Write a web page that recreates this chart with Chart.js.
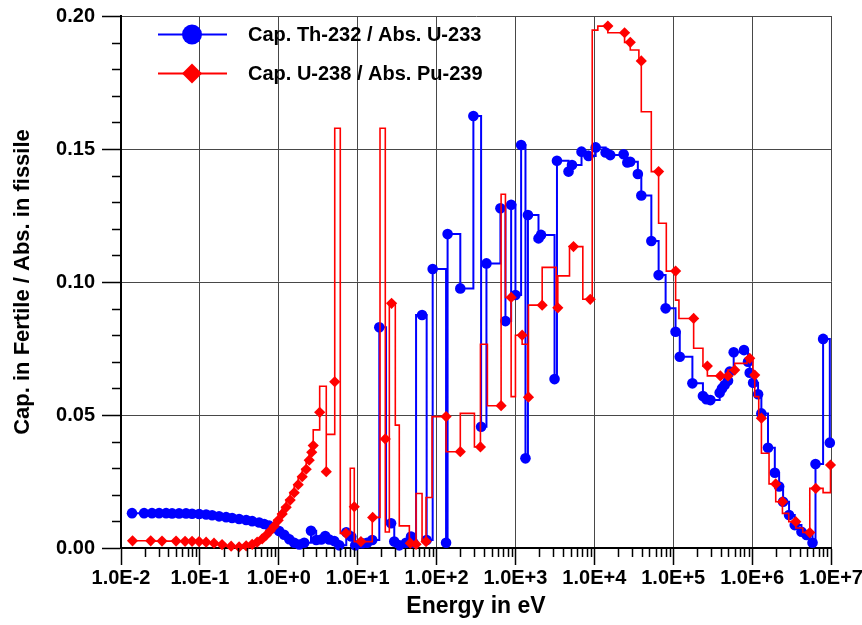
<!DOCTYPE html>
<html>
<head>
<meta charset="utf-8">
<script src="https://cdn.jsdelivr.net/npm/chart.js@4.4.1/dist/chart.umd.min.js"></script>
<style>
  html, body { margin: 0; padding: 0; background: #fff; }
  canvas { display: block; }
</style>
</head>
<body>
<canvas id="c" width="862" height="625"></canvas>
<script>
// Group energies (eV) and capture/absorption ratios, Th-232 capture over U-233 absorption
const thEnergy = [
  1.38e-2, 1.96e-2, 2.47e-2, 3.04e-2, 3.73e-2, 4.44e-2, 5.45e-2, 6.68e-2, 7.96e-2, 9.77e-2,
  0.120, 0.143, 0.175, 0.215, 0.256, 0.314, 0.386, 0.460, 0.564, 0.653,
  0.755, 0.874, 1.01, 1.17, 1.36, 1.57, 1.82, 2.10,
  2.56, 2.98, 3.45, 3.88, 4.36, 5.05, 5.84, 7.17, 8.29, 9.32,
  11.4, 13.2, 15.3, 18.8, 22.9, 26.5, 29.1, 33.7, 41.0, 47.5,
  50.8, 55.0, 65.5, 74.9, 89.3, 132, 138, 200, 293, 367,
  429, 645, 747, 882, 1000, 1180, 1340, 1440, 1960, 2110,
  3130, 3360, 4710, 5210, 6880, 8440, 1.04e4, 1.39e4, 1.59e4, 2.35e4,
  2.62e4, 2.85e4, 3.56e4, 3.94e4, 5.28e4, 6.53e4, 8.01e4, 1.07e5, 1.21e5, 1.75e5,
  2.38e5, 2.63e5, 2.96e5, 3.88e5, 4.15e5, 4.49e5, 4.95e5, 5.20e5, 5.84e5, 7.89e5,
  8.87e5, 9.32e5, 1.03e6, 1.19e6, 1.31e6, 1.59e6, 1.94e6, 2.20e6, 2.47e6, 2.94e6,
  3.47e6, 4.22e6, 4.89e6, 5.83e6, 6.36e6, 7.94e6, 9.66e6
];
const thRatio = [
  0.0131, 0.0131, 0.0131, 0.0131, 0.0131, 0.0130, 0.0130, 0.0130, 0.0129, 0.0128,
  0.0126, 0.0123, 0.0119, 0.0116, 0.0113, 0.0109, 0.0105, 0.0101, 0.0096, 0.0090,
  0.0084, 0.0075, 0.0064, 0.0050, 0.0033, 0.0020, 0.0013, 0.0020,
  0.0065, 0.0030, 0.0032, 0.0045, 0.0032, 0.0026, 0.0010, 0.0059, 0.0043, 0.0010,
  0.0018, 0.0020, 0.0030, 0.0830, 0.0093, 0.0093, 0.0024, 0.0010, 0.0020, 0.0043,
  0.0020, 0.0876, 0.0876, 0.0030, 0.1049, 0.0020, 0.1180, 0.0976, 0.1624, 0.0456,
  0.1070, 0.1277, 0.0853, 0.1290, 0.0951, 0.1515, 0.0337, 0.1252, 0.1164, 0.1177,
  0.0635, 0.1456, 0.1415, 0.1440, 0.1490, 0.1474, 0.1506, 0.1487, 0.1477, 0.1480,
  0.1449, 0.1452, 0.1406, 0.1325, 0.1154, 0.1026, 0.0901, 0.0813, 0.0719, 0.0619,
  0.0571, 0.0559, 0.0556, 0.0584, 0.0600, 0.0613, 0.0629, 0.0663, 0.0736, 0.0744,
  0.0700, 0.0659, 0.0621, 0.0578, 0.0506, 0.0377, 0.0283, 0.0231, 0.0174, 0.0124,
  0.0086, 0.0061, 0.0049, 0.0020, 0.0316, 0.0786, 0.0396
];
// 1 = symbol drawn at this point, 0 = step corner only
const thMarker = [
  1,1,1,1,1,1,1,1,1,1, 1,1,1,1,1,1,1,1,1,1, 1,1,1,1,1,1,1,1,
  1,1,1,1,1,1,1,1,1,1, 1,1,1,1,0,1,1,1,1,1, 1,0,1,1,1,1,1,1,1,1,
  1,1,1,1,1,1,1,1,1,1, 1,1,1,1,1,1,1,1,1,1, 1,1,1,1,1,1,1,1,1,1,
  1,1,1,1,1,1,1,1,1,1, 1,1,1,1,1,1,1,1,1,1, 1,1,1,1,1,1,1
];

// U-238 capture over Pu-239 absorption
const uEnergy = [
  1.40e-2, 2.38e-2, 3.31e-2, 4.99e-2, 6.49e-2, 7.96e-2, 9.77e-2, 0.120, 0.151, 0.191,
  0.249, 0.314, 0.386, 0.460, 0.532, 0.616, 0.692, 0.778, 0.874, 0.983,
  1.105, 1.241, 1.395, 1.57, 1.763, 1.982, 2.227, 2.431, 2.616, 2.733,
  3.30, 3.30, 4.00, 4.00, 5.12, 5.12, 6.02, 7.10, 8.06, 9.06,
  9.06, 11.0, 15.3, 15.5, 19.2, 22.4, 22.4, 25.2, 26.9, 30.0,
  33.7, 39.0, 45.2, 46.5, 55.0, 65.5, 73.6, 87.7, 132, 200,
  302, 360, 441, 658, 747, 882, 1000, 1216, 1432, 1462,
  2182, 3285, 3443, 4846, 5445, 7146, 8872, 9406, 11076, 14837,
  24176, 28548, 36703, 39377, 52750, 65270, 81730, 107270, 118140, 181500,
  238200, 270900, 396000, 494500, 601600, 861700, 932200, 1.027e6, 1.079e6, 1.213e6,
  1.312e6, 1.639e6, 1.993e6, 2.424e6, 2.914e6, 3.576e6, 4.386e6, 5.383e6, 6.414e6, 7.937e6,
  9.856e6, 9.856e6
];
const uRatio = [
  0.0027, 0.0027, 0.0026, 0.0026, 0.0025, 0.0025, 0.0024, 0.0022, 0.0018, 0.0013,
  0.0007, 0.0004, 0.0008, 0.0014, 0.0022, 0.0034, 0.0048, 0.0064, 0.0082, 0.0104,
  0.0128, 0.0153, 0.0180, 0.0208, 0.0238, 0.0268, 0.0296, 0.0330, 0.0360, 0.0385,
  0.0444, 0.0510, 0.0608, 0.0287, 0.0427, 0.0625, 0.1578, 0.0055, 0.0055, 0.0300,
  0.0155, 0.0024, 0.0024, 0.0115, 0.0115, 0.1578, 0.0410, 0.0060, 0.0920, 0.0920,
  0.0462, 0.0083, 0.0083, 0.0018, 0.0014, 0.0205, 0.0024, 0.0190, 0.0494, 0.0362,
  0.0506, 0.0380, 0.0766, 0.0535, 0.1330, 0.0942, 0.0569, 0.0800, 0.0766, 0.0567,
  0.0913, 0.1055, 0.0903, 0.1023, 0.1133, 0.1133, 0.0935, 0.0935, 0.1947, 0.1962,
  0.1937, 0.1901, 0.1872, 0.1831, 0.1640, 0.1415, 0.1221, 0.1041, 0.0932, 0.0863,
  0.0751, 0.0684, 0.0647, 0.0647, 0.0669, 0.0694, 0.0713, 0.0713, 0.0650, 0.0569,
  0.0488, 0.0356, 0.0241, 0.0174, 0.0130, 0.0099, 0.0075, 0.0058, 0.0224, 0.0224,
  0.0208, 0.0312
];
const uMarker = [
  1,1,1,1,1,1,1,1,1,1, 1,1,1,1,1,1,1,1,1,1, 1,1,1,1,1,1,1,1,1,1,
  0,1,0,1,0,1,0,1,0,0, 1,1,0,1,0,0,1,0,1,0, 0,0,0,1,1,0,1,0,1,1,
  0,1,0,1,0,1,0,1,0,1, 1,0,1,0,1,0,1,0,0,1, 1,1,0,1,0,1,0,1,0,1,
  0,1,1,1,1,0,1,0,1,0, 1,0,1,1,0,1,0,1,1,0, 0,1
];

const seriesLabels = ['Cap. Th-232 / Abs. U-233', 'Cap. U-238 / Abs. Pu-239'];
const decadeTicks = [1e-2, 1e-1, 1e0, 1e1, 1e2, 1e3, 1e4, 1e5, 1e6, 1e7];
const ratioTicks = [0, 0.05, 0.10, 0.15, 0.20];

const FONT = "'Liberation Sans', Arial, Helvetica, sans-serif";
Chart.defaults.font.family = FONT;
Chart.defaults.color = '#000';

function toPoints(energy, ratio) {
  return energy.map((e, i) => ({ x: e, y: ratio[i] }));
}

function sciLabel(v) {
  const p = Math.round(Math.log10(v));
  return '1.0E' + (p < 0 ? '-' : '+') + Math.abs(p);
}

// Minor ticks outside the frame: log sub-decades on x, 0.01 steps on y
const minorTicks = {
  id: 'minorTicks',
  afterDraw(chart) {
    const { ctx } = chart;
    const x = chart.scales.x, y = chart.scales.y;
    ctx.save();
    ctx.strokeStyle = '#000';
    ctx.lineWidth = 1.5;
    ctx.beginPath();
    for (let k = -2; k < 7; k++) {
      for (let m = 2; m < 10; m++) {
        const px = Math.round(x.getPixelForValue(m * Math.pow(10, k))) + 0.5;
        ctx.moveTo(px, y.bottom);
        ctx.lineTo(px, y.bottom + 9);
      }
    }
    for (let i = 1; i < 20; i++) {
      if (i % 5 === 0) continue;
      const py = Math.round(y.getPixelForValue(i / 100)) + 0.5;
      ctx.moveTo(x.left - 9, py);
      ctx.lineTo(x.left, py);
    }
    ctx.stroke();
    ctx.restore();
  }
};

// Legend inside the plot: line segment with its symbol, then the label
const innerLegend = {
  id: 'innerLegend',
  afterDraw(chart) {
    const { ctx, chartArea } = chart;
    const rows = [chartArea.top + 18.5, chartArea.top + 57.5];
    ctx.save();
    chart.data.datasets.forEach((ds, i) => {
      const yy = rows[i];
      const x0 = chartArea.left + 37, x1 = chartArea.left + 106, xm = chartArea.left + 71;
      ctx.strokeStyle = ds.borderColor;
      ctx.lineWidth = 2;
      ctx.beginPath();
      ctx.moveTo(x0, yy);
      ctx.lineTo(x1, yy);
      ctx.stroke();
      ctx.fillStyle = ds.borderColor;
      ctx.beginPath();
      if (ds.pointStyle === 'circle') {
        ctx.arc(xm, yy, 10, 0, Math.PI * 2);
      } else {
        ctx.moveTo(xm - 10, yy);
        ctx.lineTo(xm, yy - 10);
        ctx.lineTo(xm + 10, yy);
        ctx.lineTo(xm, yy + 10);
        ctx.closePath();
      }
      ctx.fill();
      ctx.fillStyle = '#000';
      ctx.font = 'bold 20px ' + FONT;
      ctx.textAlign = 'left';
      ctx.textBaseline = 'middle';
      ctx.fillText(ds.label, chartArea.left + 127, yy + 1);
    });
    ctx.restore();
  }
};

new Chart(document.getElementById('c'), {
  type: 'line',
  data: {
    datasets: [
      {
        label: seriesLabels[0],
        data: toPoints(thEnergy, thRatio),
        borderColor: '#0000ff',
        backgroundColor: '#0000ff',
        borderWidth: 2,
        stepped: 'before',
        pointStyle: 'circle',
        pointRadius: thMarker.map(m => (m ? 5.3 : 0)),
        pointBorderWidth: 0,
        pointBackgroundColor: '#0000ff',
        tension: 0,
        fill: false,
        clip: false,
        order: 1
      },
      {
        label: seriesLabels[1],
        data: toPoints(uEnergy, uRatio),
        borderColor: '#ff0000',
        backgroundColor: '#ff0000',
        borderWidth: 1.6,
        stepped: 'after',
        pointStyle: 'rectRot',
        pointRadius: uMarker.map(m => (m ? 5.6 : 0)),
        pointBorderWidth: 0,
        pointBackgroundColor: '#ff0000',
        tension: 0,
        fill: false,
        clip: false,
        order: 0
      }
    ]
  },
  options: {
    responsive: false,
    devicePixelRatio: 1,
    animation: false,
    events: [],
    layout: { padding: { left: 0, right: 31, top: 16, bottom: 0 } },
    plugins: {
      legend: { display: false },
      tooltip: { enabled: false }
    },
    scales: {
      x: {
        type: 'logarithmic',
        min: 1e-2,
        max: 1e7,
        afterBuildTicks: s => { s.ticks = decadeTicks.map(v => ({ value: v })); },
        afterFit: s => { s.height = 77; s.paddingLeft = 0; s.paddingRight = 0; },
        ticks: {
          autoSkip: false,
          maxRotation: 0,
          minRotation: 0,
          padding: 1,
          color: '#000',
          font: { size: 20, weight: 'bold' },
          callback: v => sciLabel(v)
        },
        grid: { color: '#484848', lineWidth: 1, tickColor: '#000', tickLength: 17, tickWidth: 1.5 },
        border: { color: '#000', width: 2 },
        title: {
          display: true,
          text: 'Energy in eV',
          color: '#000',
          font: { size: 23, weight: 'bold' },
          padding: { top: 0, bottom: 5 }
        }
      },
      y: {
        min: 0,
        max: 0.2,
        afterBuildTicks: s => { s.ticks = ratioTicks.map(v => ({ value: v })); },
        afterFit: s => { s.width = 121; s.paddingTop = 0; s.paddingBottom = 0; },
        ticks: {
          padding: 7,
          color: '#000',
          font: { size: 20, weight: 'bold' },
          callback: v => Number(v).toFixed(2)
        },
        grid: { color: '#484848', lineWidth: 1, tickColor: '#000', tickLength: 19, tickWidth: 1.5 },
        border: { color: '#000', width: 2 },
        title: {
          display: true,
          text: 'Cap. in Fertile / Abs. in fissile',
          color: '#000',
          font: { size: 22, weight: 'bold' },
          padding: { top: 10, bottom: 0 }
        }
      }
    }
  },
  plugins: [minorTicks, innerLegend]
});
</script>
</body>
</html>
